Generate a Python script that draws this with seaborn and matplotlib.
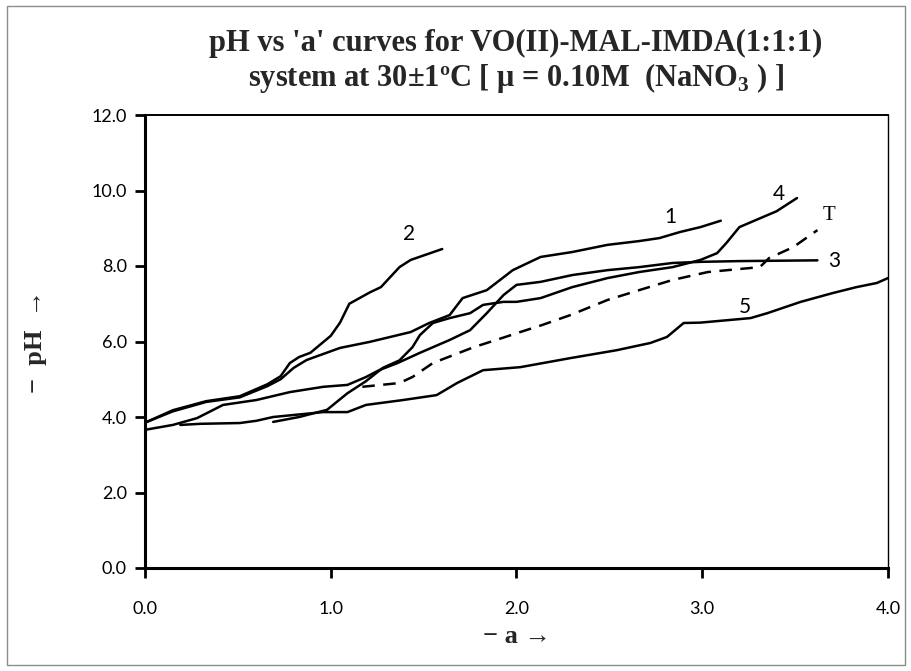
import matplotlib
matplotlib.use("Agg")
import matplotlib.pyplot as plt
import seaborn as sns
import pandas as pd
from matplotlib.patches import Rectangle

# ---- data ----
a1 = [0.0, 0.15, 0.33, 0.51, 0.66, 0.73, 0.80, 0.87, 1.05, 1.21, 1.43, 1.53, 1.64, 1.71, 1.84, 1.98,
      2.13, 2.30, 2.49, 2.66, 2.77, 2.88, 2.99, 3.10]
ph1 = [3.85, 4.15, 4.40, 4.52, 4.82, 5.00, 5.30, 5.51, 5.83, 5.99, 6.25, 6.49, 6.70, 7.15, 7.36, 7.89,
       8.24, 8.37, 8.56, 8.66, 8.74, 8.90, 9.03, 9.20]

a2 = [0.0, 0.15, 0.33, 0.51, 0.66, 0.73, 0.78, 0.83, 0.89, 1.00, 1.05, 1.10, 1.21, 1.27, 1.37, 1.43, 1.60]
ph2 = [3.85, 4.18, 4.42, 4.55, 4.87, 5.08, 5.43, 5.59, 5.70, 6.15, 6.50, 7.00, 7.30, 7.44, 7.97, 8.16, 8.45]

a3 = [0.0, 0.15, 0.28, 0.42, 0.60, 0.78, 0.96, 1.09, 1.19, 1.26, 1.36, 1.48, 1.64, 1.75, 1.84, 1.93,
      2.00, 2.13, 2.30, 2.49, 2.66, 2.84, 2.99, 3.20, 3.62]
ph3 = [3.66, 3.79, 3.97, 4.32, 4.45, 4.66, 4.80, 4.85, 5.06, 5.24, 5.43, 5.70, 6.04, 6.30, 6.75, 7.23,
       7.50, 7.58, 7.76, 7.89, 7.97, 8.08, 8.11, 8.13, 8.15]

a4 = [0.69, 0.83, 0.98, 1.09, 1.19, 1.28, 1.37, 1.44, 1.48, 1.55, 1.64, 1.75, 1.82, 1.93, 2.00, 2.13,
      2.30, 2.49, 2.66, 2.84, 2.99, 3.08, 3.13, 3.20, 3.29, 3.40, 3.51]
ph4 = [3.87, 4.00, 4.19, 4.63, 4.95, 5.30, 5.50, 5.85, 6.17, 6.49, 6.62, 6.75, 6.97, 7.05, 7.05, 7.15,
       7.44, 7.68, 7.84, 7.97, 8.16, 8.34, 8.61, 9.03, 9.22, 9.45, 9.80]

a5 = [0.19, 0.30, 0.51, 0.60, 0.69, 0.96, 1.09, 1.19, 1.39, 1.57, 1.68, 1.82, 2.02, 2.29, 2.54, 2.72,
      2.81, 2.90, 2.99, 3.26, 3.35, 3.53, 3.70, 3.83, 3.94, 4.00]
ph5 = [3.79, 3.82, 3.84, 3.90, 4.00, 4.13, 4.13, 4.32, 4.45, 4.58, 4.90, 5.24, 5.32, 5.56, 5.77, 5.96,
       6.12, 6.49, 6.50, 6.62, 6.75, 7.05, 7.28, 7.44, 7.55, 7.68]

aT = [1.17, 1.37, 1.44, 1.55, 1.66, 1.77, 1.89, 2.02, 2.14, 2.29, 2.49, 2.66, 2.84, 3.03, 3.20, 3.31,
      3.36, 3.49, 3.62]
phT = [4.80, 4.90, 5.06, 5.43, 5.64, 5.85, 6.04, 6.25, 6.44, 6.70, 7.10, 7.36, 7.63, 7.84, 7.92, 7.97,
       8.21, 8.50, 8.95]

curve_names = ["1", "2", "3", "4", "5", "T"]
label_pos = {"1": (2.83, 9.30), "2": (1.42, 8.85), "3": (3.71, 8.13),
             "4": (3.41, 9.90), "5": (3.23, 6.92), "T": (3.68, 9.35)}
xticks = [0.0, 1.0, 2.0, 3.0, 4.0]
yticks = [0.0, 2.0, 4.0, 6.0, 8.0, 10.0, 12.0]

frames = []
for name, xs, ys in zip(curve_names, [a1, a2, a3, a4, a5, aT], [ph1, ph2, ph3, ph4, ph5, phT]):
    frames.append(pd.DataFrame({"curve": name, "a": xs, "pH": ys}))
df = pd.concat(frames, ignore_index=True)

sns.set_theme(style="white")
plt.rcParams["font.family"] = ["Lato", "DejaVu Sans"]
plt.rcParams["mathtext.fontset"] = "custom"
plt.rcParams["mathtext.rm"] = "Liberation Serif"
plt.rcParams["mathtext.bf"] = "Liberation Serif:bold"

serif = ["Liberation Serif", "DejaVu Serif"]

fig = plt.figure(figsize=(9.12, 6.71), dpi=100)
ax = fig.add_axes([145 / 912, 1 - 568 / 671, (888 - 145) / 912, (568 - 115) / 671])

for name in curve_names:
    sub = df[df["curve"] == name]
    ls = (0, (5.0, 3.4)) if name == "T" else "-"
    sns.lineplot(data=sub, x="a", y="pH", sort=False, estimator=None, ax=ax,
                 color="black", linewidth=1.8, linestyle=ls, legend=False)

ax.set_xlim(0, 4.0)
ax.set_ylim(0, 12.0)
ax.set_xticks(xticks)
ax.set_yticks(yticks)
ax.set_xticklabels([f"{v:.1f}" for v in xticks])
ax.set_yticklabels([f"{v:.1f}" for v in yticks])
ax.tick_params(axis="x", direction="out", length=7, width=2, pad=17, labelsize=13, colors="black")
ax.tick_params(axis="y", direction="out", length=7, width=2, pad=6, labelsize=13, colors="black")
ax.tick_params(axis="both", which="both", bottom=True, left=True, top=False, right=False)
for s in ["left", "bottom"]:
    ax.spines[s].set_linewidth(2.2)
    ax.spines[s].set_color("black")
ax.spines["top"].set_linewidth(1.4)
ax.spines["top"].set_color("black")
ax.spines["right"].set_linewidth(1.0)
ax.spines["right"].set_color("black")
ax.set_xlabel("")
ax.set_ylabel("")

for name, (x, y) in label_pos.items():
    fam = ["Liberation Serif"] if name == "T" else ["Lato", "DejaVu Sans"]
    ax.text(x, y, name, fontsize=15, family=fam, ha="center", va="center", color="black")

ax.text(0.5, -0.152, "− a →", transform=ax.transAxes, ha="center", va="center",
        fontsize=19, fontweight="bold", family=serif)
ax.text(-0.148, 0.5, "−  pH  →", transform=ax.transAxes, ha="center", va="center", rotation=90,
        fontsize=19, fontweight="bold", family=serif)

fig.text(516 / 912, 1 - 43 / 671, "pH vs 'a' curves for VO(II)-MAL-IMDA(1:1:1)",
         ha="center", va="center", fontsize=22, fontweight="bold", family=serif)
fig.text(516 / 912, 1 - 78 / 671, "system at 30±1ºC [ μ = 0.10M  (NaNO$_\\mathbf{3}$ ) ]",
         ha="center", va="center", fontsize=22, fontweight="bold", family=serif)

fig.add_artist(Rectangle((7 / 912, 6 / 671), (905 - 7) / 912, (665 - 6) / 671,
                         transform=fig.transFigure, fill=False, edgecolor="#8c8c8c", linewidth=1.0))

fig.savefig("out.png", dpi=100)
